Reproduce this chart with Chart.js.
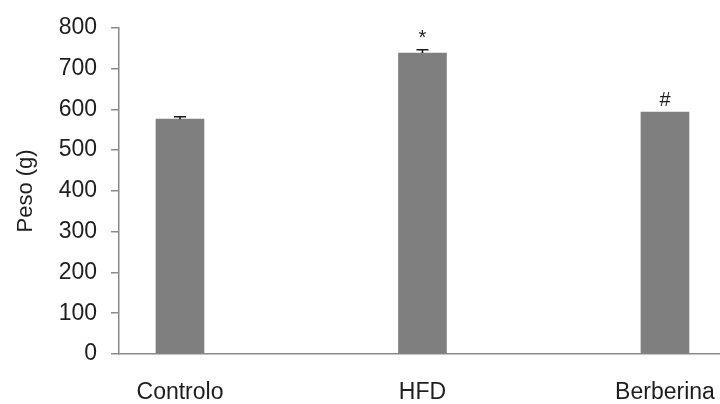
<!DOCTYPE html>
<html>
<head>
<meta charset="utf-8">
<script src="https://cdn.jsdelivr.net/npm/chart.js@4/dist/chart.umd.min.js"></script>
<style>
  html, body { margin: 0; padding: 0; background: #ffffff; }
  #wrap { width: 720px; height: 404px; }
</style>
</head>
<body>
<div id="wrap"><canvas id="grafico" width="720" height="404"></canvas></div>
<script>
// Grupos experimentais e peso corporal médio (g) com erro padrão
const categorias = ['Controlo', 'HFD', 'Berberina'];
const pesoMedio = [576, 738, 593];
const erroPadrao = [6, 8, 0];
const marcas = ['', '*', '#'];
const yTicks = [0, 100, 200, 300, 400, 500, 600, 700, 800];

const corTexto = '#1e1e1e';
const corEixo = '#8a8a8a';
const fonte = 'Liberation Sans, Arial, sans-serif';

// Barras de erro (apenas o lado superior) e marcas de significância
const barrasErro = {
  id: 'barrasErro',
  afterDatasetsDraw(chart) {
    const ctx = chart.ctx;
    const xs = chart.scales.x, ys = chart.scales.y;
    ctx.save();
    pesoMedio.forEach((v, i) => {
      const x = xs.getPixelForValue(i);
      const yBase = ys.getPixelForValue(v);
      const yTopo = ys.getPixelForValue(v + erroPadrao[i]);
      if (erroPadrao[i] > 0) {
        ctx.strokeStyle = '#1a1a1a';
        ctx.lineWidth = 1.6;
        ctx.beginPath();
        ctx.moveTo(x, yBase);
        ctx.lineTo(x, yTopo);
        ctx.moveTo(x - 6, yTopo);
        ctx.lineTo(x + 6, yTopo);
        ctx.stroke();
      }
      if (marcas[i]) {
        ctx.fillStyle = corTexto;
        ctx.font = '20px ' + fonte;
        ctx.textAlign = 'center';
        ctx.textBaseline = 'alphabetic';
        ctx.fillText(marcas[i], x, yTopo - 6);
      }
    });
    ctx.restore();
  }
};

new Chart(document.getElementById('grafico'), {
  type: 'bar',
  data: {
    datasets: [{
      data: pesoMedio.map((v, i) => ({ x: i, y: v })),
      backgroundColor: '#7f7f7f',
      borderWidth: 0,
      barThickness: 48
    }]
  },
  options: {
    responsive: false,
    animation: false,
    layout: { padding: { top: 22, right: 0, left: 0, bottom: 0 } },
    plugins: { legend: { display: false }, tooltip: { enabled: false } },
    scales: {
      x: {
        type: 'linear',
        offset: false,
        min: -0.2515,
        max: 2.227,
        afterFit(s) { s.height = 50; s.paddingLeft = 0; s.paddingRight = 0; },
        afterBuildTicks(s) { s.ticks = categorias.map((c, i) => ({ value: i })); },
        grid: { display: false, drawTicks: false, offset: false },
        border: { display: true, color: corEixo, width: 1.5 },
        ticks: {
          autoSkip: false,
          maxRotation: 0,
          padding: 25,
          color: corTexto,
          font: { family: fonte, size: 23 },
          callback: (v) => categorias[v]
        }
      },
      y: {
        min: 0,
        max: 800,
        afterFit(s) { s.width = 119; },
        afterBuildTicks(s) { s.ticks = yTicks.map(v => ({ value: v })); },
        grid: { drawOnChartArea: false, drawTicks: true, tickLength: 8, color: corEixo, lineWidth: 1.5 },
        border: { display: true, color: corEixo, width: 1.5 },
        ticks: {
          padding: 14,
          color: corTexto,
          font: { family: fonte, size: 23 }
        },
        title: {
          display: true,
          text: 'Peso (g)',
          color: corTexto,
          font: { family: fonte, size: 22 },
          padding: { top: 13, bottom: 0 }
        }
      }
    }
  },
  plugins: [barrasErro]
});
</script>
</body>
</html>
